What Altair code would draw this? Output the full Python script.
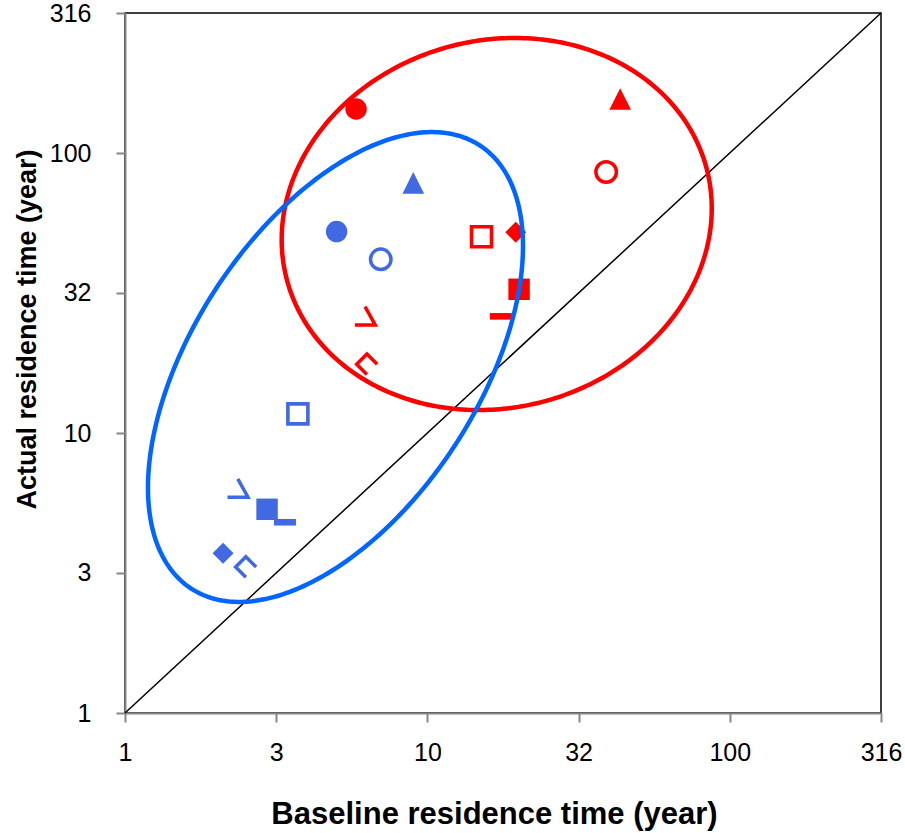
import altair as alt
import pandas as pd
import numpy as np

# ---------------- data ----------------
MARKERS = ["filled circle", "filled triangle", "open circle", "open square",
           "filled diamond", "filled square", "dash",
           "open triangle part", "open diamond part"]

red_baseline = [5.81, 43.4, 39.0, 15.1, 19.6, 20.1, 17.5, 6.22, 6.31]
red_actual = [143.6, 155.9, 85.5, 50.2, 52.1, 32.6, 26.1, 26.2, 17.6]

blue_baseline = [5.01, 8.98, 7.01, 3.73, 2.11, 2.95, 3.38, 2.36, 2.51]
blue_actual = [52.4, 78.2, 41.7, 11.7, 3.72, 5.34, 4.80, 6.36, 3.32]

# ellipse parameters (centre in years, conjugate semi-axes in decades)
ellipse_names = ["red", "blue"]
ellipse_center_baseline = [16.95, 4.966]
ellipse_center_actual = [55.77, 17.21]
ellipse_axis1 = [(0.6935, 0.2007), (0.4703, 0.7961)]
ellipse_axis2 = [(0.1572, -0.6334), (0.4041, -0.2648)]

axis_min, axis_max = 1, 316.2278
diag_values = [axis_min, axis_max]
tick_values = [1, 3.1623, 10, 31.623, 100, 316.2]

# ---------------- tables ----------------
points = pd.DataFrame({
    "series": ["red"] * len(MARKERS) + ["blue"] * len(MARKERS),
    "marker": MARKERS + MARKERS,
    "baseline": red_baseline + blue_baseline,
    "actual": red_actual + blue_actual,
})

rows = []
t = np.linspace(0, 2 * np.pi, 361)
for name, cx, cy, a1, a2 in zip(ellipse_names, ellipse_center_baseline,
                                ellipse_center_actual, ellipse_axis1, ellipse_axis2):
    lx = np.log10(cx) + np.cos(t) * a1[0] + np.sin(t) * a2[0]
    ly = np.log10(cy) + np.cos(t) * a1[1] + np.sin(t) * a2[1]
    for i, (u, v) in enumerate(zip(lx, ly)):
        rows.append({"ellipse": name, "i": i, "baseline": 10 ** u, "actual": 10 ** v})
ellipses = pd.DataFrame(rows)

diag = pd.DataFrame({"baseline": diag_values, "actual": diag_values})

# ---------------- encodings ----------------
xscale = alt.Scale(type="log", domain=[axis_min, axis_max], nice=False)
yscale = alt.Scale(type="log", domain=[axis_min, axis_max], nice=False)

common_axis = dict(values=tick_values, labelExpr="format(datum.value, '.0f')",
                   labelOverlap=False, labelFlush=False, labelBound=False)

xaxis = alt.Axis(title="Baseline residence time (year)", titleX=369, titleY=101,
                 titleAlign="center", titleBaseline="middle", titleFontSize=31,
                 labelPadding=18, **common_axis)
yaxis = alt.Axis(title="Actual residence time (year)", titleX=-98, titleY=316,
                 titleAlign="center", titleBaseline="middle", titleAngle=-90,
                 titleFontSize=27, labelPadding=25, **common_axis)

X = alt.X("baseline:Q", scale=xscale, axis=xaxis)
Y = alt.Y("actual:Q", scale=yscale, axis=yaxis)

color = alt.Color("series:N", scale=alt.Scale(domain=["red", "blue"],
                                              range=["#FF0000", "#4169E1"]), legend=None)

STYLE = {
    "filled circle": dict(shape="circle", size=460, filled=True),
    "filled triangle": dict(shape="M 0 -1 L 1 1 L -1 1 Z", size=470, filled=True),
    "open circle": dict(shape="circle", size=420, filled=False, strokeWidth=3.5),
    "open square": dict(shape="square", size=400, filled=False, strokeWidth=3.6),
    "filled diamond": dict(shape="diamond", size=440, filled=True),
    "filled square": dict(shape="square", size=460, filled=True),
    "dash": dict(shape="M -1 -0.3 L 1 -0.3 L 1 0.3 L -1 0.3 Z", size=484, filled=True),
    "open triangle part": dict(shape="M -1 0.9 L 1 0.9 L 0 -0.9", size=420, filled=False, strokeWidth=3.5),
    "open diamond part": dict(shape="M 1 0 L 0 -1 L -1 0 L 0 1", size=420, filled=False, strokeWidth=3.5),
}

base = alt.Chart(points)

diag_layer = alt.Chart(diag).mark_line(color="black", strokeWidth=1.5).encode(x=X, y=Y)

marker_layers = []
for m in MARKERS:
    s = STYLE[m]
    marker_layers.append(
        base.transform_filter(alt.datum.marker == m).mark_point(opacity=1, **s).encode(
            x=X, y=Y, color=color)
    )

red_ell = alt.Chart(ellipses).transform_filter(alt.datum.ellipse == "red").mark_line(
    color="#FF0000", strokeWidth=4.5).encode(x=X, y=Y, order="i:Q")
blue_ell = alt.Chart(ellipses).transform_filter(alt.datum.ellipse == "blue").mark_line(
    color="#0066FF", strokeWidth=4.5).encode(x=X, y=Y, order="i:Q")

chart = alt.layer(diag_layer, *marker_layers, red_ell, blue_ell).properties(
    width=756, height=700,
    autosize=alt.AutoSizeParams(type="none"),
    padding={"left": 125, "top": 13, "right": 24, "bottom": 120},
    background="white",
).configure_view(
    stroke="black", strokeWidth=1.5
).configure_axis(
    grid=False,
    domainColor="#868686", domainWidth=2,
    tickColor="#868686", tickWidth=2, tickSize=9,
    labelFont="Liberation Sans", labelFontSize=25, labelColor="black",
    titleFont="Liberation Sans", titleFontWeight="bold", titleColor="black",
)

chart.save("out.html", embed_options={"renderer": "svg", "actions": False})
